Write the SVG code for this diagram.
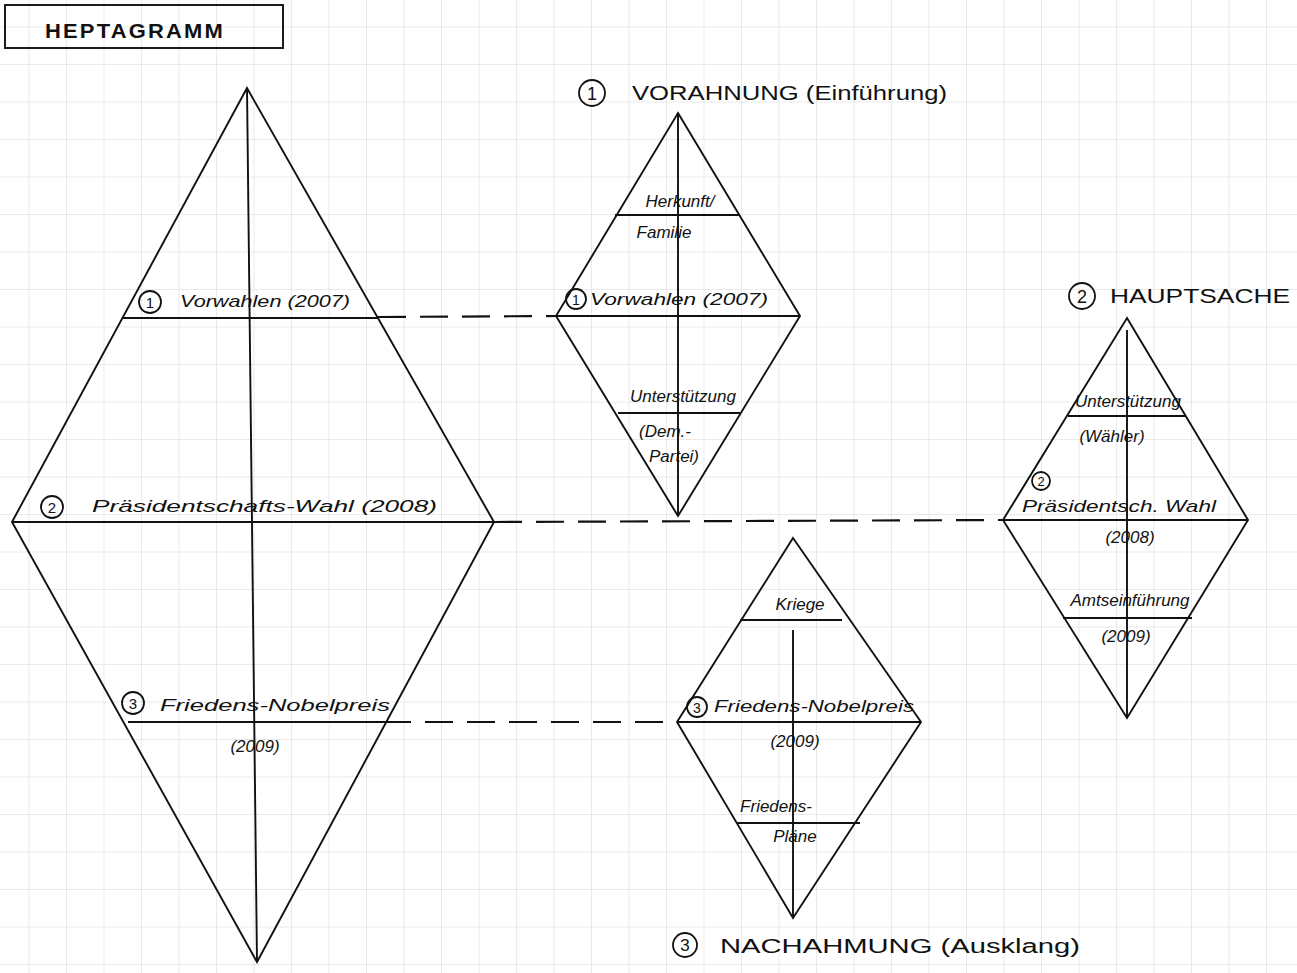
<svg xmlns="http://www.w3.org/2000/svg" width="1297" height="973" viewBox="0 0 1297 973">
<style>
.ln{stroke:#111;stroke-width:1.9;fill:none}
.sep{stroke:#111;stroke-width:2.2;fill:none}
.dash{stroke:#111;stroke-width:2.2;fill:none;stroke-dasharray:28 14}
.t{font-family:"Liberation Sans",Arial,sans-serif;font-style:italic;fill:#111;font-size:17px}
.u{font-family:"Liberation Sans",Arial,sans-serif;fill:#111;font-size:20px}
.h{font-family:"Liberation Sans",Arial,sans-serif;fill:#111;font-size:20px;font-weight:bold;letter-spacing:2px}
.c{stroke:#111;stroke-width:1.8;fill:none}
.n{font-family:"Liberation Sans",Arial,sans-serif;fill:#111;text-anchor:middle}
.m{text-anchor:middle}
</style>
<defs>
<pattern id="grid" width="37.5" height="37.5" patternUnits="userSpaceOnUse" x="-8" y="-10">
<path d="M37.5 0V37.5M0 37.5H37.5" stroke="#d6d6d6" stroke-width="1" fill="none"/>
</pattern>
</defs>
<rect width="1297" height="973" fill="#fff"/>
<rect width="1297" height="973" fill="url(#grid)"/>

<g id="title">
<rect x="5" y="5" width="278" height="43" class="ln" stroke-width="2.5"/>
<text x="45" y="38" class="h" textLength="180" lengthAdjust="spacingAndGlyphs">HEPTAGRAMM</text>
</g>

<g id="connectors">
<line x1="378" y1="317" x2="556" y2="316" class="dash"/>
<line x1="494" y1="522" x2="1003" y2="520" class="dash"/>
<line x1="383" y1="722" x2="677" y2="722" class="dash"/>
</g>

<g id="big-diamond">
<polygon points="247,88 494,522 257,962 12,522" class="ln"/>
<line x1="247" y1="88" x2="257" y2="962" class="ln"/>
<line x1="122" y1="318" x2="378" y2="318" class="sep"/>
<line x1="12" y1="522" x2="494" y2="522" class="sep"/>
<line x1="128" y1="722" x2="383" y2="722" class="sep"/>
<circle cx="150" cy="302" r="11" class="c"/><text x="150" y="308" class="n" font-size="15">1</text>
<text x="180" y="307" class="t" textLength="170" lengthAdjust="spacingAndGlyphs">Vorwahlen (2007)</text>
<circle cx="52" cy="507" r="11" class="c"/><text x="52" y="513" class="n" font-size="15">2</text>
<text x="92" y="512" class="t" textLength="345" lengthAdjust="spacingAndGlyphs">Präsidentschafts-Wahl (2008)</text>
<circle cx="133" cy="703" r="11" class="c"/><text x="133" y="709" class="n" font-size="15">3</text>
<text x="160" y="711" class="t" textLength="230" lengthAdjust="spacingAndGlyphs">Friedens-Nobelpreis</text>
<text x="255" y="752" class="t m" font-size="20">(2009)</text>
</g>

<g id="vorahnung">
<circle cx="592" cy="93" r="13" class="c"/><text x="592" y="100" class="n" font-size="18">1</text>
<text x="632" y="100" class="u" textLength="315" lengthAdjust="spacingAndGlyphs">VORAHNUNG (Einführung)</text>
<polygon points="678,113 800,316 678,516 556,316" class="ln"/>
<line x1="678" y1="113" x2="678" y2="516" class="ln"/>
<line x1="615" y1="215" x2="740" y2="215" class="sep"/>
<line x1="556" y1="316" x2="800" y2="316" class="sep"/>
<line x1="618" y1="413" x2="740" y2="413" class="sep"/>
<text x="680" y="207" class="t m" font-size="15">Herkunft/</text>
<text x="664" y="238" class="t m" font-size="15">Familie</text>
<circle cx="576" cy="299" r="10" class="c"/><text x="576" y="305" class="n" font-size="14">1</text>
<text x="590" y="305" class="t" textLength="178" lengthAdjust="spacingAndGlyphs">Vorwahlen (2007)</text>
<text x="683" y="402" class="t m" font-size="15">Unterstützung</text>
<text x="665" y="437" class="t m" font-size="15">(Dem.-</text>
<text x="674" y="462" class="t m" font-size="15">Partei)</text>
</g>

<g id="hauptsache">
<circle cx="1082" cy="296" r="13" class="c"/><text x="1082" y="303" class="n" font-size="18">2</text>
<text x="1110" y="303" class="u" textLength="180" lengthAdjust="spacingAndGlyphs">HAUPTSACHE</text>
<polygon points="1127,318 1248,520 1127,718 1003,520" class="ln"/>
<line x1="1127" y1="330" x2="1127" y2="718" class="ln"/>
<line x1="1068" y1="416" x2="1186" y2="416" class="sep"/>
<line x1="1003" y1="520" x2="1248" y2="520" class="sep"/>
<line x1="1063" y1="618" x2="1192" y2="618" class="sep"/>
<text x="1128" y="407" class="t m" font-size="15">Unterstützung</text>
<text x="1112" y="442" class="t m" font-size="15">(Wähler)</text>
<circle cx="1041" cy="481" r="9" class="c"/><text x="1041" y="486" class="n" font-size="13">2</text>
<text x="1022" y="512" class="t" font-size="15" textLength="194" lengthAdjust="spacingAndGlyphs">Präsidentsch. Wahl</text>
<text x="1130" y="543" class="t m" font-size="15">(2008)</text>
<text x="1130" y="606" class="t m" font-size="15">Amtseinführung</text>
<text x="1126" y="642" class="t m" font-size="15">(2009)</text>
</g>

<g id="nachahmung">
<polygon points="793,538 921,722 793,918 677,722" class="ln"/>
<line x1="793" y1="630" x2="793" y2="918" class="ln"/>
<line x1="740" y1="620" x2="842" y2="620" class="sep"/>
<line x1="677" y1="722" x2="921" y2="722" class="sep"/>
<line x1="737" y1="823" x2="860" y2="823" class="sep"/>
<text x="800" y="610" class="t m" font-size="15">Kriege</text>
<circle cx="697" cy="707" r="10" class="c"/><text x="697" y="713" class="n" font-size="14">3</text>
<text x="714" y="712" class="t" font-size="16" textLength="200" lengthAdjust="spacingAndGlyphs">Friedens-Nobelpreis</text>
<text x="795" y="747" class="t m" font-size="15">(2009)</text>
<text x="776" y="812" class="t m" font-size="15">Friedens-</text>
<text x="795" y="842" class="t m" font-size="15">Pläne</text>
<circle cx="685" cy="945" r="12" class="c"/><text x="685" y="951" class="n" font-size="17">3</text>
<text x="720" y="953" class="u" textLength="360" lengthAdjust="spacingAndGlyphs">NACHAHMUNG (Ausklang)</text>
</g>
</svg>
